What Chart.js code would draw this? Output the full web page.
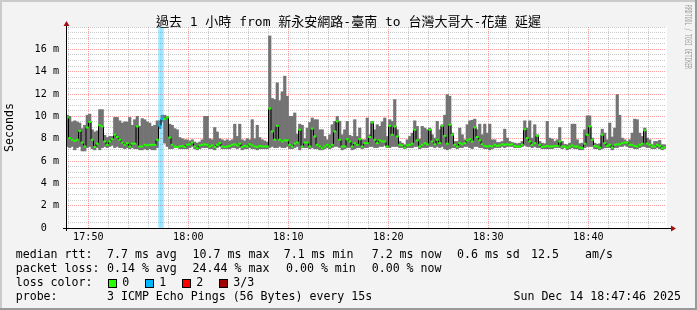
<!DOCTYPE html>
<html>
<head>
<meta charset="utf-8">
<script src="https://cdn.jsdelivr.net/npm/chart.js@4.4.1/dist/chart.umd.min.js"></script>
<style>
  html, body { margin: 0; padding: 0; background: #f3f3f3; }
  #wrap { position: relative; width: 697px; height: 310px; overflow: hidden; }
  #pingChart { position: absolute; left: 0; top: 0; }
  .txt { position: absolute; font-family: "DejaVu Sans Mono", monospace; font-size: 11.6px; line-height: 14px; color: #000; white-space: pre; }
  #title { left: 0; width: 697px; top: 14px; text-align: center; font-size: 13px; line-height: 15px;
           font-family: "DejaVu Sans Mono", "Noto Sans CJK TC", monospace; }
  .box { position: absolute; top: 279px; width: 7px; height: 7px; border: 1px solid #000; }
</style>
</head>
<body>
<div id="wrap">
  <canvas id="pingChart" width="697" height="310"></canvas>
  <div id="title" class="txt">過去 1 小時 from 新永安網路-臺南 to 台灣大哥大-花蓮 延遲</div>

  <div class="txt" style="top:247px;left:15.7px">median rtt:</div>
  <div class="txt" style="top:247px;left:107px">7.7 ms avg</div>
  <div class="txt" style="top:247px;left:192.6px">10.7 ms max</div>
  <div class="txt" style="top:247px;left:283.7px">7.1 ms min</div>
  <div class="txt" style="top:247px;left:371.7px">7.2 ms now</div>
  <div class="txt" style="top:247px;left:457px">0.6 ms sd</div>
  <div class="txt" style="top:247px;left:531px">12.5</div>
  <div class="txt" style="top:247px;left:585px">am/s</div>

  <div class="txt" style="top:261px;left:15.7px">packet loss:</div>
  <div class="txt" style="top:261px;left:107px">0.14 % avg</div>
  <div class="txt" style="top:261px;left:192.6px">24.44 % max</div>
  <div class="txt" style="top:261px;left:286px">0.00 % min</div>
  <div class="txt" style="top:261px;left:371.7px">0.00 % now</div>

  <div class="txt" style="top:275px;left:15.7px">loss color:</div>
  <div class="box" style="left:108px;background:#26ff00"></div>
  <div class="txt" style="top:275px;left:122.3px">0</div>
  <div class="box" style="left:145px;background:#00b8ff"></div>
  <div class="txt" style="top:275px;left:159.3px">1</div>
  <div class="box" style="left:182px;background:#ff0000"></div>
  <div class="txt" style="top:275px;left:196.3px">2</div>
  <div class="box" style="left:219px;background:#a10000"></div>
  <div class="txt" style="top:275px;left:233.3px">3/3</div>

  <div class="txt" style="top:289px;left:15.7px">probe:</div>
  <div class="txt" style="top:289px;left:107px">3 ICMP Echo Pings (56 Bytes) every 15s</div>
  <div class="txt" style="top:289px;right:16px">Sun Dec 14 18:47:46 2025</div>
</div>

<script>
// 15 s samples from 17:47:46 to 18:47:46, values in ms
const medianRtt = [
  9.9, 8.05, 7.9, 7.8, 7.9, 8.7, 7.65, 7.3, 9.0, 9.5, 7.9, 7.25,
  7.55, 9.2, 9.1, 7.75, 7.45, 7.75, 7.95, 8.35, 8.15, 7.9, 7.65, 7.45,
  7.6, 7.3, 7.55, 7.55, 9.1, 7.3, 7.3, 7.45, 7.4, 7.45, 7.45, 7.45,
  7.9, 9.15, 9.75, 9.75, 9.9, 8.1, 7.45, 7.3, 7.25, 7.3, 7.35, 7.25,
  7.45, 7.5, 7.65, 7.3, 7.15, 7.4, 7.45, 7.5, 7.45, 7.3, 7.4, 7.25,
  7.45, 7.6, 7.3, 7.25, 7.3, 7.35, 7.45, 7.5, 7.4, 7.55, 7.25, 7.35,
  7.3, 7.5, 7.4, 7.3, 7.25, 7.35, 7.3, 7.3, 7.3, 10.7, 8.65, 7.9,
  9.15, 7.9, 7.75, 7.85, 7.85, 7.45, 7.3, 7.55, 7.65, 8.8, 7.3, 7.65,
  7.65, 7.3, 8.9, 8.2, 7.45, 7.3, 7.15, 7.3, 7.45, 7.3, 7.45, 8.65,
  9.55, 7.9, 7.3, 7.3, 7.95, 7.75, 7.3, 7.6, 7.45, 7.95, 7.3, 7.6,
  7.6, 8.15, 9.45, 7.9, 7.6, 7.85, 7.75, 7.75, 7.3, 9.15, 8.35, 9.1,
  8.2, 7.45, 7.4, 7.2, 7.4, 7.45, 7.55, 8.8, 7.85, 7.3, 7.45, 7.6,
  7.5, 8.8, 7.75, 7.5, 7.9, 7.6, 9.15, 8.25, 7.55, 9.25, 8.35, 7.45,
  7.3, 7.6, 7.5, 7.6, 7.85, 7.95, 7.75, 9.0, 8.15, 7.85, 7.5, 7.35,
  7.3, 7.35, 7.3, 7.45, 7.35, 7.4, 7.5, 7.45, 7.5, 7.45, 7.5, 7.35,
  7.3, 7.3, 7.45, 8.85, 8.05, 7.75, 7.45, 7.6, 8.25, 7.45, 7.25, 7.3,
  7.35, 7.3, 7.3, 7.35, 7.35, 7.75, 7.3, 7.3, 7.2, 7.3, 7.4, 7.3,
  7.3, 7.2, 7.15, 7.55, 8.35, 9.1, 7.9, 7.35, 7.3, 7.2, 8.35, 7.6,
  7.35, 7.45, 7.2, 7.45, 7.5, 7.5, 7.6, 7.65, 7.65, 7.45, 7.45, 7.35,
  7.3, 7.45, 7.55, 8.75, 7.55, 7.45, 7.3, 7.3, 7.45, 7.35, 7.15, 7.2
];
const smokeMax = [
  10.1, 10.0, 9.5, 9.6, 9.5, 9.4, 8.9, 9.2, 10.1, 10.2, 8.8, 8.6,
  8.7, 10.6, 10.6, 8.3, 8.1, 8.2, 8.2, 9.9, 9.9, 9.6, 9.4, 9.5,
  9.5, 9.9, 9.2, 9.7, 10.0, 9.1, 9.8, 9.7, 9.5, 9.4, 9.1, 9.2,
  9.6, 9.6, 10.1, 10.1, 10.0, 9.3, 9.2, 8.9, 8.8, 8.1, 8.0, 7.9,
  7.9, 7.8, 7.9, 7.7, 7.6, 7.7, 7.9, 10.0, 10.0, 8.0, 7.9, 9.0,
  8.6, 8.0, 7.9, 7.8, 7.9, 7.8, 7.9, 9.3, 8.2, 9.3, 7.9, 7.8,
  8.0, 7.9, 9.7, 8.0, 9.2, 8.1, 7.9, 7.8, 7.7, 17.2, 11.6, 11.5,
  13.0, 11.4, 12.2, 13.6, 11.8, 10.0, 10.0, 10.3, 8.4, 9.3, 9.2, 8.0,
  8.95, 9.45, 9.85, 9.7, 9.7, 8.8, 8.8, 8.2, 7.9, 8.35, 9.25, 9.55,
  9.99, 9.55, 8.35, 8.8, 9.55, 8.3, 8.2, 9.7, 8.2, 8.95, 7.9, 7.9,
  9.85, 8.35, 9.55, 8.8, 9.25, 9.1, 9.5, 9.85, 8.2, 9.7, 9.55, 11.5,
  8.8, 7.75, 7.6, 7.45, 7.9, 8.2, 8.5, 9.6, 9.1, 7.96, 9.1, 8.95,
  8.8, 8.95, 8.35, 8.05, 9.55, 8.8, 9.25, 10.1, 11.95, 11.8, 8.5, 7.75,
  7.75, 8.95, 8.35, 7.9, 9.25, 9.6, 9.65, 9.75, 8.8, 9.3, 8.35, 9.3,
  8.5, 9.3, 7.9, 7.9, 7.66, 7.66, 7.75, 8.85, 8.05, 7.75, 7.66, 7.6,
  7.55, 7.6, 7.75, 9.6, 8.95, 9.6, 8.05, 9.25, 8.35, 7.75, 7.6, 7.55,
  9.55, 8.05, 7.96, 7.75, 7.9, 9.0, 7.75, 7.5, 7.45, 7.6, 9.3, 9.3,
  7.9, 7.55, 7.6, 8.8, 10.05, 10.05, 8.05, 7.6, 7.5, 7.55, 8.85, 8.5,
  7.9, 9.4, 8.15, 8.95, 11.95, 10.1, 8.05, 7.9, 7.75, 7.9, 8.5, 9.75,
  9.7, 8.5, 8.2, 8.95, 8.05, 7.9, 7.45, 7.75, 7.75, 7.85, 7.45, 7.45
];
const smokeMin = [
  7.3, 7.2, 7.3, 7.0, 7.2, 7.3, 6.9, 6.9, 7.2, 7.3, 7.1, 7.0,
  7.2, 7.0, 7.2, 7.3, 7.2, 7.3, 7.4, 7.2, 7.3, 7.2, 7.2, 7.1,
  7.2, 7.1, 7.2, 7.1, 7.1, 7.0, 7.0, 7.1, 7.0, 7.1, 7.0, 7.0,
  7.2, 8.9, 9.5, 7.6, 7.3, 7.1, 7.1, 7.2, 7.2, 7.1, 7.1, 7.1,
  7.1, 7.2, 7.3, 7.1, 7.0, 7.1, 7.2, 7.2, 7.2, 7.1, 7.1, 7.0,
  7.2, 7.3, 7.1, 7.1, 7.1, 7.1, 7.2, 7.2, 7.1, 7.2, 7.0, 7.1,
  7.1, 7.2, 7.1, 7.1, 7.0, 7.1, 7.1, 7.1, 7.1, 7.2, 7.3, 7.2,
  7.2, 7.3, 7.2, 7.2, 7.3, 7.1, 7.1, 7.2, 7.3, 7.0, 7.2, 7.2,
  7.2, 7.1, 7.2, 7.1, 7.1, 7.0, 7.0, 7.1, 7.2, 7.1, 7.2, 7.3,
  7.3, 7.2, 7.0, 7.1, 7.2, 7.2, 7.0, 7.1, 7.2, 7.2, 7.1, 7.2,
  7.2, 7.3, 7.3, 7.2, 7.2, 7.3, 7.3, 7.4, 7.2, 7.2, 7.3, 7.3,
  7.3, 7.2, 7.2, 7.1, 7.2, 7.2, 7.2, 7.3, 7.3, 7.1, 7.2, 7.2,
  7.2, 7.3, 7.3, 7.2, 7.3, 7.2, 7.3, 7.1, 7.0, 7.1, 7.2, 7.2,
  7.1, 7.2, 7.2, 7.3, 7.3, 7.2, 7.1, 7.3, 7.3, 7.2, 7.2, 7.1,
  7.1, 7.0, 7.1, 7.2, 7.2, 7.2, 7.3, 7.2, 7.3, 7.3, 7.3, 7.2,
  7.2, 7.2, 7.3, 7.4, 7.3, 7.3, 7.2, 7.3, 7.2, 7.2, 7.1, 7.1,
  7.1, 7.1, 7.1, 7.2, 7.2, 7.2, 7.1, 7.2, 7.0, 7.1, 7.2, 7.1,
  7.1, 7.0, 7.0, 7.2, 7.3, 7.3, 7.3, 7.1, 7.1, 7.0, 7.1, 7.2,
  7.2, 7.2, 7.0, 7.2, 7.2, 7.3, 7.3, 7.4, 7.3, 7.2, 7.2, 7.1,
  7.1, 7.2, 7.3, 7.3, 7.2, 7.2, 7.1, 7.1, 7.2, 7.1, 7.0, 7.1
];
// samples where 1 of 3 pings was lost
const lossSteps = [37, 38];
const lossColors = ['#26ff00', '#00b8ff', '#ff0000', '#a10000'];

// time axis in seconds after 17:00
const startSec = 2866;
const endSec = 6466;
const stepSec = 15;
const yMax = 18;

const minorGrid = 'rgba(140,140,140,0.45)';
const majorGrid = 'rgba(255,0,0,0.38)';
const monoFont = '"DejaVu Sans Mono", monospace';

function sampleTime(i) { return startSec + stepSec * i + stepSec / 2; }
function hhmm(sec) {
    const h = 17 + Math.floor(sec / 3600);
    const m = Math.floor((sec % 3600) / 60);
    return h + ':' + String(m).padStart(2, '0');
}

const timeTicks = [];
for (let t = 2880; t < endSec; t += 120) timeTicks.push(t);

const smokeData = medianRtt.map((_, i) => ({ x: sampleTime(i), y: [smokeMin[i], smokeMax[i]] }));
const medianData = medianRtt.map((v, i) => ({ x: sampleTime(i), y: v }));
const lossData = lossSteps.map(i => ({ x: sampleTime(i), y: [0, yMax] }));
const pointColors = medianRtt.map((_, i) => lossSteps.includes(i) ? lossColors[1] : lossColors[0]);

// background, frame, axis arrows, watermark
const rrdFrame = {
    id: 'rrdFrame',
    beforeDraw(chart) {
        const { ctx, chartArea: a } = chart;
        ctx.save();
        ctx.fillStyle = '#f3f3f3';
        ctx.fillRect(0, 0, chart.width, chart.height);
        ctx.fillStyle = '#ffffff';
        ctx.fillRect(a.left, a.top, a.right - a.left + 1, a.bottom - a.top);
        ctx.restore();
    },
    afterDraw(chart) {
        const { ctx, chartArea: a } = chart;
        const W = chart.width, H = chart.height;
        ctx.save();
        // axes
        ctx.strokeStyle = '#000';
        ctx.lineWidth = 1;
        ctx.beginPath();
        ctx.moveTo(a.left - 3, a.bottom + 0.5);
        ctx.lineTo(a.right + 6, a.bottom + 0.5);
        ctx.moveTo(a.left + 0.5, a.bottom + 3);
        ctx.lineTo(a.left + 0.5, a.top - 3);
        ctx.stroke();
        ctx.fillStyle = '#a01010';
        ctx.beginPath();
        ctx.moveTo(a.left + 0.5, a.top - 6);
        ctx.lineTo(a.left - 2.5, a.top - 1);
        ctx.lineTo(a.left + 3.5, a.top - 1);
        ctx.closePath();
        ctx.fill();
        ctx.beginPath();
        ctx.moveTo(a.right + 10, a.bottom + 0.5);
        ctx.lineTo(a.right + 5, a.bottom - 2.5);
        ctx.lineTo(a.right + 5, a.bottom + 3.5);
        ctx.closePath();
        ctx.fill();
        // 3d frame
        ctx.fillStyle = '#cbcbcb';
        ctx.fillRect(0, 0, W, 2);
        ctx.fillRect(0, 0, 2, H);
        ctx.fillStyle = '#999999';
        ctx.fillRect(0, H - 2, W, 2);
        ctx.fillRect(W - 2, 0, 2, H);
        // watermark
        ctx.translate(687.5, 5);
        ctx.rotate(Math.PI / 2);
        ctx.fillStyle = '#a0a0a0';
        ctx.font = '8.5px ' + monoFont;
        ctx.textBaseline = 'middle';
        ctx.fillText('RRDTOOL / TOBI OETIKER', 0, 0, 64);
        ctx.restore();
    }
};

new Chart(document.getElementById('pingChart'), {
    type: 'bar',
    data: {
        datasets: [
            {
                type: 'line',
                data: medianData,
                stepped: 'middle',
                borderColor: '#000',
                borderWidth: 1,
                pointStyle: 'line',
                pointRadius: 1.5,
                pointBorderWidth: 2,
                pointBorderColor: pointColors,
                pointBackgroundColor: pointColors,
                order: 0
            },
            {
                data: lossData,
                backgroundColor: 'rgba(0,184,255,0.33)',
                barPercentage: 1,
                categoryPercentage: 1,
                grouped: false,
                borderWidth: 0,
                order: 1
            },
            {
                data: smokeData,
                backgroundColor: '#737373',
                barPercentage: 1,
                categoryPercentage: 1,
                grouped: false,
                borderWidth: 0,
                order: 2
            }
        ]
    },
    options: {
        responsive: false,
        animation: false,
        devicePixelRatio: 1,
        layout: { padding: { left: 0, top: 27, right: 31, bottom: 0 } },
        plugins: { legend: { display: false }, tooltip: { enabled: false } },
        scales: {
            x: {
                type: 'linear',
                min: startSec,
                max: endSec,
                bounds: 'data',
                offset: false,
                afterBuildTicks: s => { s.ticks = timeTicks.map(v => ({ value: v })); },
                afterFit: s => { s.height = 82; },
                ticks: {
                    autoSkip: false,
                    maxRotation: 0,
                    padding: 3,
                    color: '#000',
                    font: { family: monoFont, size: 10.15 },
                    callback: v => v % 600 === 0 ? hhmm(v) : ''
                },
                grid: {
                    offset: false,
                    drawTicks: false,
                    color: c => c.tick && c.tick.value % 600 === 0 ? majorGrid : minorGrid
                },
                border: { display: false, dash: [1, 1] }
            },
            y: {
                min: 0,
                max: yMax,
                afterFit: s => { s.width = 66; },
                ticks: {
                    stepSize: 0.5,
                    autoSkip: false,
                    padding: 7,
                    color: '#000',
                    font: { family: monoFont, size: 10.15 },
                    callback: v => (v % 2 === 0 && v < yMax) ? (v === 0 ? '0  ' : v + ' m') : ''
                },
                grid: {
                    drawTicks: false,
                    color: c => {
                        const v = c.tick ? c.tick.value : 0;
                        if (v === 0) return 'rgba(0,0,0,0)';
                        return (v % 2 === 0 && v < yMax) ? majorGrid : minorGrid;
                    }
                },
                border: { display: false, dash: [1, 1] },
                title: {
                    display: true,
                    text: 'Seconds',
                    color: '#000',
                    font: { family: monoFont, size: 11.6 },
                    padding: { top: 3, bottom: 0 }
                }
            }
        }
    },
    plugins: [rrdFrame]
});
</script>
</body>
</html>
